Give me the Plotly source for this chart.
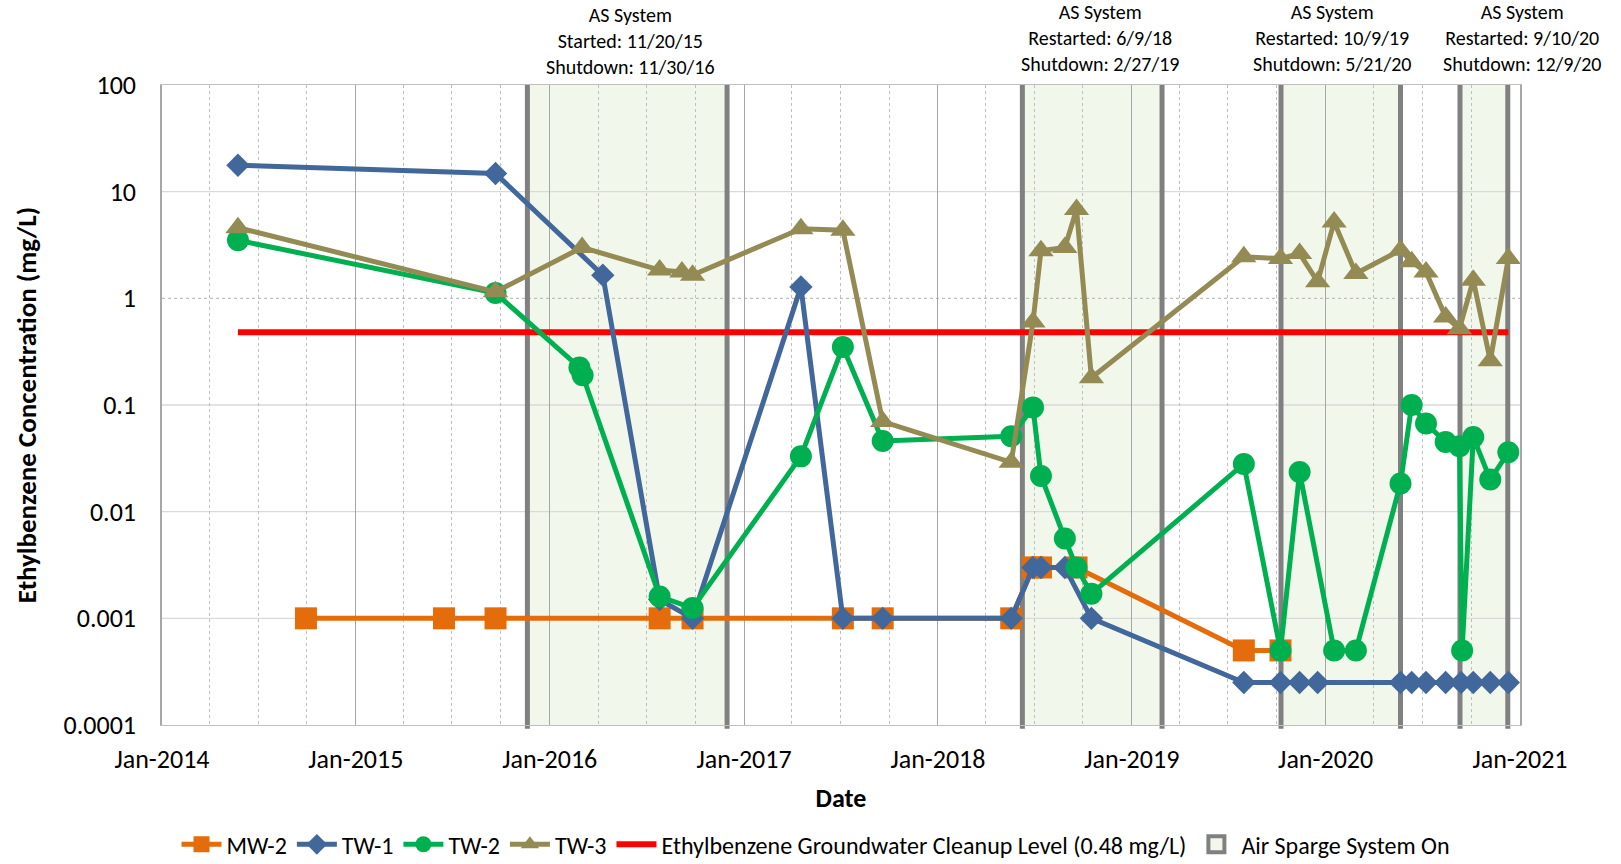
import plotly.graph_objects as go

# ---------------- data ----------------
mw2_dates = ["2014-09-29", "2015-06-16", "2015-09-21", "2016-07-26", "2016-09-26",
             "2017-07-06", "2017-09-19", "2018-05-19", "2018-06-29", "2018-07-14",
             "2018-09-19", "2019-07-31", "2019-10-08"]
mw2_vals = [0.001, 0.001, 0.001, 0.001, 0.001,
            0.001, 0.001, 0.001, 0.003, 0.003,
            0.003, 0.0005, 0.0005]

tw1_dates = ["2014-05-24", "2015-09-21", "2016-04-10", "2016-07-26", "2016-09-26",
             "2017-04-18", "2017-07-06", "2017-09-19", "2018-05-19", "2018-06-29",
             "2018-07-14", "2018-08-28", "2018-10-17", "2019-07-31", "2019-10-08",
             "2019-11-13", "2019-12-17", "2020-05-21", "2020-06-11", "2020-07-08",
             "2020-08-14", "2020-09-12", "2020-10-05", "2020-11-06", "2020-12-10"]
tw1_vals = [17.7, 14.8, 1.65, 0.0015, 0.001,
            1.28, 0.001, 0.001, 0.001, 0.003,
            0.003, 0.003, 0.001, 0.00025, 0.00025,
            0.00025, 0.00025, 0.00025, 0.00025, 0.00025,
            0.00025, 0.00025, 0.00025, 0.00025, 0.00025]

tw2_dates = ["2014-05-24", "2015-09-21", "2016-02-26", "2016-03-03", "2016-07-26",
             "2016-09-26", "2017-04-18", "2017-07-06", "2017-09-19", "2018-05-19",
             "2018-06-29", "2018-07-14", "2018-08-28", "2018-09-19", "2018-10-17",
             "2019-07-31", "2019-10-08", "2019-11-13", "2020-01-17", "2020-02-27",
             "2020-05-21", "2020-06-11", "2020-07-08", "2020-08-14", "2020-09-09",
             "2020-09-14", "2020-10-05", "2020-11-06", "2020-12-10"]
tw2_vals = [3.5, 1.12, 0.225, 0.19, 0.0016,
            0.00125, 0.033, 0.35, 0.046, 0.051,
            0.095, 0.0216, 0.0056, 0.003, 0.0017,
            0.028, 0.0005, 0.0235, 0.0005, 0.0005,
            0.0184, 0.1, 0.067, 0.045, 0.041,
            0.0005, 0.05, 0.020, 0.036]

tw3_dates = ["2014-05-24", "2015-09-21", "2016-03-02", "2016-07-26", "2016-09-06",
             "2016-09-26", "2017-04-18", "2017-07-06", "2017-09-19", "2018-05-19",
             "2018-06-29", "2018-07-14", "2018-08-28", "2018-09-19", "2018-10-17",
             "2019-07-31", "2019-10-08", "2019-11-13", "2019-12-17", "2020-01-17",
             "2020-02-27", "2020-05-21", "2020-06-11", "2020-07-08", "2020-08-14",
             "2020-09-09", "2020-10-05", "2020-11-06", "2020-12-10"]
tw3_vals = [4.6, 1.15, 3.0, 1.84, 1.77,
            1.65, 4.5, 4.35, 0.07, 0.029,
            0.6, 2.8, 3.0, 6.8, 0.18,
            2.45, 2.36, 2.63, 1.43, 5.2,
            1.71, 2.83, 2.2, 1.77, 0.67,
            0.52, 1.48, 0.26, 2.36]

cleanup_dates = ["2014-05-24", "2020-12-10"]
cleanup_level = 0.48

as_starts = ["2015-11-20", "2018-06-09", "2019-10-09", "2020-09-10"]
as_ends = ["2016-11-30", "2019-02-27", "2020-05-21", "2020-12-09"]
as_labels = ["AS System<br>Started: 11/20/15<br>Shutdown: 11/30/16",
             "AS System<br>Restarted: 6/9/18<br>Shutdown: 2/27/19",
             "AS System<br>Restarted: 10/9/19<br>Shutdown: 5/21/20",
             "AS System<br>Restarted: 9/10/20<br>Shutdown: 12/9/20"]

y_tickvals = [0.0001, 0.001, 0.01, 0.1, 1, 10, 100]
y_ticktext = ["0.0001", "0.001", "0.01", "0.1", "1", "10", "100"]

# ---------------- styles ----------------
FONT = "Carlito, Lato, sans-serif"
C_MW2 = "#E46C0A"
C_TW1 = "#41679B"
C_TW2 = "#00B050"
C_TW3 = "#948A54"
C_RED = "#FF0000"
C_SHADE = "#F2F7EC"
C_ASLINE = "#808080"

fig = go.Figure()

fig.add_trace(go.Scatter(
    x=cleanup_dates, y=[cleanup_level] * len(cleanup_dates), mode="lines",
    name="Ethylbenzene Groundwater Cleanup Level (0.48 mg/L)",
    line=dict(color=C_RED, width=6), legendrank=5))

fig.add_trace(go.Scatter(
    x=mw2_dates, y=mw2_vals, mode="lines+markers", name="MW-2",
    line=dict(color=C_MW2, width=5),
    marker=dict(symbol="square", size=22, color=C_MW2), legendrank=1))

fig.add_trace(go.Scatter(
    x=tw1_dates, y=tw1_vals, mode="lines+markers", name="TW-1",
    line=dict(color=C_TW1, width=5),
    marker=dict(symbol="diamond", size=18, color=C_TW1), legendrank=2))

fig.add_trace(go.Scatter(
    x=tw2_dates, y=tw2_vals, mode="lines+markers", name="TW-2",
    line=dict(color=C_TW2, width=5),
    marker=dict(symbol="circle", size=22, color=C_TW2), legendrank=3))

fig.add_trace(go.Scatter(
    x=tw3_dates, y=tw3_vals, mode="lines+markers", name="TW-3",
    line=dict(color=C_TW3, width=5),
    marker=dict(symbol="triangle-up", size=22, color=C_TW3), legendrank=4))

# legend-only entry for AS system box
fig.add_trace(go.Scatter(
    x=[None], y=[None], mode="markers", name="Air Sparge System On",
    marker=dict(symbol="square", size=22, color=C_SHADE,
                line=dict(color=C_ASLINE, width=4)), legendrank=6))

shapes = []
# shaded AS periods
for s, e in zip(as_starts, as_ends):
    shapes.append(dict(type="rect", xref="x", yref="paper", x0=s, x1=e, y0=0, y1=1,
                       fillcolor=C_SHADE, line=dict(width=0), layer="below"))
# horizontal grid lines
for v in y_tickvals[1:-1]:
    shapes.append(dict(type="line", xref="paper", yref="y", x0=0, x1=1, y0=v, y1=v,
                       line=dict(color="#D9D9D9" if v != 1 else "#BFBFBF", width=1.3,
                                 dash="solid" if v != 1 else "dot"),
                       layer="below"))
# AS boundary lines
for d in as_starts + as_ends:
    shapes.append(dict(type="line", xref="x", yref="paper", x0=d, x1=d, y0=-0.006, y1=1,
                       line=dict(color=C_ASLINE, width=5), layer="between"))

annotations = []
ann_x = [0.345, 0.6907, 0.8612, 1.0013]
ann_y = [1.0067, 1.0114, 1.0114, 1.0114]
for lab, ax, ay in zip(as_labels, ann_x, ann_y):
    annotations.append(dict(text=lab, xref="paper", yref="paper", x=ax, y=ay,
                            xanchor="center", yanchor="bottom", showarrow=False,
                            align="center", font=dict(family=FONT, size=20, color="black")))

fig.update_layout(
    width=1621, height=864,
    margin=dict(l=162, r=101, t=85, b=139, autoexpand=False),
    paper_bgcolor="white", plot_bgcolor="white",
    font=dict(family=FONT, color="black"),
    shapes=shapes, annotations=annotations,
    showlegend=True,
    legend=dict(orientation="h", x=0.4816, xanchor="center", y=-0.187, yanchor="middle",
                font=dict(family=FONT, size=24, color="black"),
                traceorder="normal", itemwidth=40, bgcolor="rgba(0,0,0,0)"),
    xaxis=dict(type="date", range=["2014-01-01", "2021-01-01"],
               tick0="2014-01-01", dtick="M12", tickformat="%b-%Y",
               showgrid=True, gridcolor="#A6A6A6", gridwidth=1,
               minor=dict(dtick="M3", showgrid=True, gridcolor="#BFBFBF", griddash="dot",
                          gridwidth=1),
               showline=True, linecolor="#BFBFBF", linewidth=1.3, mirror=True,
               ticks="", ticklabelstandoff=11, automargin=False,
               tickfont=dict(family=FONT, size=26, color="black"),
               title=dict(text="<b>Date</b>", font=dict(family=FONT, size=26, color="black"),
                          standoff=14),
               zeroline=False),
    yaxis=dict(type="log", range=[-4, 2], tickvals=y_tickvals, ticktext=y_ticktext,
               showgrid=False, showline=True, linecolor="#A6A6A6", linewidth=1.5, mirror=True,
               ticks="", ticklabelstandoff=19, automargin=False,
               tickfont=dict(family=FONT, size=26, color="black"),
               title=dict(text="<b>Ethylbenzene Concentration (mg/L)</b>",
                          font=dict(family=FONT, size=27, color="black"), standoff=19),
               zeroline=False),
)

fig.write_html("out.html", config={"displayModeBar": False},
               post_script="document.body.style.margin='0';document.body.style.overflow='hidden';")
